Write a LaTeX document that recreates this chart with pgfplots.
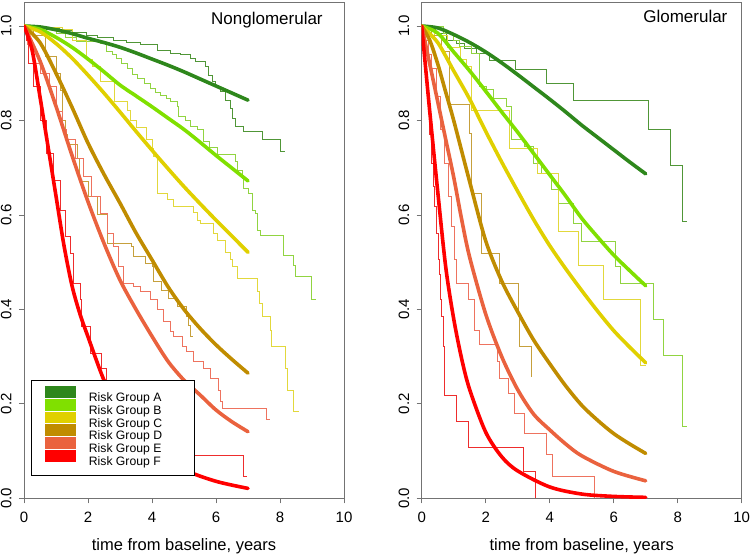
\documentclass[border=0pt]{standalone}
\usepackage{fontspec}
\setmainfont{Liberation Sans}
\usepackage{pgfplots}
\pgfplotsset{compat=1.18}
\definecolor{cA}{RGB}{46,135,28}
\definecolor{cB}{RGB}{128,224,0}
\definecolor{cC}{RGB}{224,208,0}
\definecolor{cD}{RGB}{192,140,0}
\definecolor{cE}{RGB}{234,98,62}
\definecolor{cF}{RGB}{255,0,0}
\definecolor{sA}{RGB}{80,150,55}
\definecolor{sB}{RGB}{145,212,65}
\definecolor{sC}{RGB}{226,216,60}
\definecolor{sD}{RGB}{198,160,60}
\definecolor{sE}{RGB}{238,115,95}
\definecolor{sF}{RGB}{238,45,45}
\newcommand\legent[1]{\makebox[89.2pt][l]{#1}}
\pgfplotsset{
  base/.style={
    width=320pt, height=495.9pt, scale only axis,
    xmin=0, xmax=10, ymin=0, ymax=1.05,
    xtick={0,2,...,10}, ytick={0,0.2,0.4,0.6,0.8,1.0},
    axis line style={draw=black!55, line width=0.8pt},
    tick style={black!55, line width=0.8pt},
    tick align=outside, major tick length=5pt,
    xtick pos=left, ytick pos=left,
    /pgf/number format/assume math mode=true,
    yticklabel style={rotate=90, anchor=south, inner sep=0pt,
      font=\fontsize{15}{15}\selectfont,
      /pgf/number format/.cd, fixed, fixed zerofill, precision=1},
    xticklabel style={anchor=north, inner sep=0pt, font=\fontsize{15}{15}\selectfont},
    yticklabel shift=7.3pt, xticklabel shift=8.7pt,
    xlabel={time from baseline, years},
    xlabel style={at={(rel axis cs:0.5,0)}, anchor=base, yshift=-51.7pt, inner sep=0pt,
      font=\fontsize{16.5}{16.5}\selectfont},
  },
  km/.style={line width=0.9pt, const plot, forget plot},
  fit/.style={line width=3.6pt, line cap=round, smooth},
}
\begin{document}
\begin{tikzpicture}
\useasboundingbox (0,0) rectangle (750pt,558pt);
% ---------------- Nonglomerular ----------------
\begin{axis}[base, at={(24pt,59.7pt)}, anchor=south west,
  legend style={at={(rel axis cs:0.0209,0.2386)}, anchor=north west,
    draw=black, line width=0.6pt, fill=white, inner xsep=14.3pt, inner ysep=5.85pt,
    font=\fontsize{12.2}{12.2}\selectfont, row sep=-6.2pt},
  legend cell align=left,
  legend image code/.code={\fill[#1,draw=none] (0pt,0pt) rectangle (30.7pt,11.8pt); \path[draw=none] (0pt,0pt) -- (41.6pt,0pt);},
]
\addplot[km, sA] coordinates {(0,1)(0.3,0.997)(0.7,0.994)(1.1,0.99)(1.5,0.986)(1.96,0.981)(2.3,0.976)(2.8,0.970)(3.2,0.966)(3.63,0.960)(4.16,0.949)(4.57,0.942)(4.89,0.939)(5.2,0.932)(5.36,0.925)(5.67,0.914)(5.77,0.896)(5.88,0.882)(5.98,0.871)(6.14,0.861)(6.3,0.843)(6.45,0.826)(6.5,0.805)(6.61,0.787)(6.87,0.776)(7.44,0.759)(8.0,0.734)(8.17,0.734)};
\addplot[km, sB] coordinates {(0,1)(0.5,0.995)(1.0,0.985)(1.3,0.975)(1.65,0.967)(2.38,0.963)(2.59,0.946)(2.75,0.94)(2.9,0.932)(3.05,0.92)(3.22,0.910)(3.4,0.898)(3.53,0.889)(3.75,0.878)(3.95,0.868)(4.1,0.86)(4.26,0.854)(4.45,0.846)(4.57,0.840)(4.78,0.830)(4.83,0.808)(5.04,0.801)(5.2,0.787)(5.41,0.780)(5.62,0.755)(5.8,0.742)(6.03,0.727)(6.61,0.713)(6.66,0.695)(6.82,0.678)(6.87,0.656)(7.02,0.646)(7.13,0.610)(7.23,0.603)(7.29,0.568)(7.39,0.557)(8.12,0.515)(8.43,0.494)(8.49,0.469)(8.97,0.421)(9.14,0.421)};
\addplot[km, sC] coordinates {(0,1)(0.6,0.997)(1.2,0.993)(1.5,0.97)(1.95,0.93)(2.15,0.915)(2.4,0.882)(2.82,0.84)(3.22,0.822)(3.32,0.801)(3.5,0.785)(3.84,0.759)(4.0,0.74)(4.05,0.723)(4.16,0.646)(4.47,0.632)(4.68,0.617)(5.30,0.606)(5.41,0.589)(5.51,0.582)(5.93,0.561)(6.03,0.547)(6.3,0.52)(6.45,0.505)(6.5,0.49)(6.68,0.466)(7.29,0.437)(7.37,0.413)(7.44,0.385)(7.7,0.356)(7.73,0.321)(8.17,0.275)(8.24,0.229)(8.43,0.183)(8.59,0.183)};
\addplot[km, sD] coordinates {(0,1)(0.3,0.98)(0.68,0.935)(1.0,0.90)(1.15,0.864)(1.2,0.80)(1.3,0.77)(1.36,0.75)(1.67,0.72)(1.72,0.67)(2.0,0.64)(2.3,0.60)(2.6,0.54)(3.37,0.533)(3.42,0.512)(3.79,0.498)(4.0,0.49)(4.03,0.459)(4.31,0.441)(4.52,0.423)(4.78,0.406)(5.09,0.385)(5.15,0.367)(5.2,0.342)(5.28,0.342)};
\addplot[km, sE] coordinates {(0,1)(0.1,0.96)(0.3,0.92)(0.5,0.9)(0.81,0.871)(1.0,0.82)(1.2,0.78)(1.34,0.759)(1.6,0.72)(1.86,0.681)(2.1,0.64)(2.38,0.603)(2.6,0.56)(2.8,0.533)(2.95,0.49)(3.11,0.455)(3.42,0.448)(3.63,0.437)(3.95,0.420)(4.16,0.399)(4.36,0.374)(4.57,0.353)(4.68,0.342)(4.94,0.321)(5.09,0.310)(5.30,0.289)(5.62,0.275)(5.83,0.254)(6.08,0.229)(6.14,0.205)(6.19,0.191)(7.58,0.166)(7.68,0.166)};
\addplot[km, sF] coordinates {(0,1)(0.08,0.97)(0.13,0.921)(0.29,0.871)(0.5,0.801)(0.71,0.73)(0.92,0.674)(1.13,0.61)(1.28,0.554)(1.44,0.519)(1.54,0.455)(1.75,0.42)(1.81,0.363)(2.07,0.307)(2.43,0.275)(2.57,0.25)(3.0,0.2)(3.5,0.15)(4.0,0.12)(4.5,0.10)(5.0,0.0917)(6.85,0.0457)(6.97,0.0457)};
\addplot[fit, cA] coordinates {(0,1)(0.5,0.998)(1,0.992)(1.5,0.984)(2,0.974)(2.5,0.965)(3,0.955)(3.5,0.943)(4,0.930)(4.5,0.917)(5,0.903)(5.5,0.888)(6,0.873)(6.5,0.858)(7,0.843)};
\addlegendentry{\legent{Risk Group A}}
\addplot[fit, cB] coordinates {(0,1)(0.5,0.993)(1,0.976)(1.5,0.955)(2,0.93)(2.5,0.903)(3,0.875)(3.5,0.852)(4,0.829)(4.5,0.805)(5,0.781)(5.5,0.754)(6,0.726)(6.5,0.699)(7,0.672)};
\addlegendentry{\legent{Risk Group B}}
\addplot[fit, cC] coordinates {(0,1)(0.5,0.988)(1,0.963)(1.5,0.932)(2,0.896)(2.5,0.858)(3,0.818)(3.5,0.777)(4,0.737)(4.5,0.698)(5,0.660)(5.5,0.624)(6,0.589)(6.5,0.555)(7,0.521)};
\addlegendentry{\legent{Risk Group C}}
\addplot[fit, cD] coordinates {(0,1)(0.5,0.965)(1,0.90)(1.5,0.828)(2,0.752)(2.5,0.686)(3,0.625)(3.5,0.562)(4,0.505)(4.5,0.448)(5,0.40)(5.5,0.36)(6,0.325)(6.5,0.294)(7,0.265)};
\addlegendentry{\legent{Risk Group D}}
\addplot[fit, cE] coordinates {(0,1)(0.5,0.926)(1,0.83)(1.5,0.726)(2,0.628)(2.5,0.54)(3,0.462)(3.5,0.40)(4,0.343)(4.5,0.29)(5,0.25)(5.5,0.219)(6,0.187)(6.5,0.162)(7,0.141)};
\addlegendentry{\legent{Risk Group E}}
\addplot[fit, cF] coordinates {(0,1)(0.25,0.95)(0.5,0.85)(0.75,0.745)(1,0.64)(1.25,0.535)(1.5,0.45)(1.75,0.39)(2,0.342)(2.5,0.25)(3,0.183)(3.5,0.14)(4,0.105)(5,0.061)(6,0.036)(7,0.021)};
\addlegendentry{\legent{Risk Group F}}
\node[anchor=base east, font=\fontsize{17}{17}\selectfont, inner sep=0pt] at (rel axis cs:0.934,0.956) {Nonglomerular};
\end{axis}
% ---------------- Glomerular ----------------
\begin{axis}[base, at={(421.7pt,59.7pt)}, anchor=south west]
\addplot[km, sA] coordinates {(0,1)(0.42,0.985)(0.78,0.970)(1.09,0.963)(1.35,0.953)(1.72,0.942)(2.13,0.927)(2.94,0.907)(3.9,0.879)(4.73,0.842)(7.08,0.782)(7.78,0.704)(8.14,0.586)(8.3,0.586)};
\addplot[km, sB] coordinates {(0,1)(0.67,0.985)(0.98,0.970)(1.19,0.956)(1.55,0.942)(1.81,0.872)(2.02,0.865)(2.23,0.847)(2.64,0.829)(2.8,0.759)(3.22,0.744)(3.48,0.709)(3.74,0.688)(4.05,0.653)(4.26,0.625)(4.73,0.582)(5.0,0.543)(6.04,0.49)(6.2,0.455)(7.24,0.379)(7.55,0.303)(8.16,0.153)(8.3,0.153)};
\addplot[km, sC] coordinates {(0,1)(0.4,0.98)(0.8,0.955)(1.2,0.93)(1.4,0.914)(1.56,0.822)(2.73,0.741)(3.63,0.688)(4.26,0.564)(4.89,0.494)(5.68,0.422)(6.85,0.282)(7.0,0.282)};
\addplot[km, sD] coordinates {(0,1)(0.3,0.98)(0.61,0.946)(0.87,0.833)(1.5,0.773)(1.55,0.646)(1.86,0.519)(2.44,0.455)(3.01,0.388)(3.06,0.321)(3.43,0.257)};
\addplot[km, sE] coordinates {(0,1)(0.1,0.97)(0.2,0.94)(0.3,0.91)(0.46,0.85)(0.6,0.78)(0.72,0.709)(0.83,0.64)(0.93,0.575)(1.03,0.505)(1.08,0.455)(1.45,0.420)(1.66,0.356)(1.81,0.325)(2.38,0.289)(2.44,0.254)(2.70,0.222)(2.91,0.180)(3.22,0.138)(3.91,0.092)(4.10,0.046)(5.39,0.0)};
\addplot[km, sF] coordinates {(0,1)(0.05,0.96)(0.09,0.921)(0.15,0.87)(0.2,0.822)(0.25,0.77)(0.3,0.709)(0.36,0.66)(0.41,0.617)(0.46,0.56)(0.51,0.505)(0.56,0.475)(0.6,0.42)(0.63,0.385)(0.67,0.321)(0.70,0.217)(1.08,0.162)(1.45,0.108)(3.17,0.056)(3.55,0.0)};
\addplot[fit, cA] coordinates {(0,1)(0.5,0.996)(1,0.982)(1.5,0.965)(2,0.945)(2.5,0.922)(3,0.897)(3.5,0.871)(4,0.845)(4.5,0.818)(5,0.790)(5.5,0.764)(6,0.738)(6.5,0.712)(7,0.687)};
\addplot[fit, cB] coordinates {(0,1)(0.5,0.985)(1,0.945)(1.5,0.905)(2,0.862)(2.5,0.818)(3,0.775)(3.5,0.73)(4,0.685)(4.5,0.64)(5,0.593)(5.5,0.553)(6,0.515)(6.5,0.482)(7,0.450)};
\addplot[fit, cC] coordinates {(0,1)(0.5,0.965)(1,0.905)(1.5,0.845)(2,0.777)(2.5,0.712)(3,0.65)(3.5,0.59)(4,0.535)(4.5,0.486)(5,0.44)(5.5,0.396)(6,0.355)(6.5,0.32)(7,0.287)};
\addplot[fit, cD] coordinates {(0,1)(0.25,0.97)(0.5,0.92)(0.75,0.86)(1,0.80)(1.5,0.67)(2,0.545)(2.5,0.46)(3,0.395)(3.5,0.335)(4,0.285)(4.5,0.238)(5,0.197)(5.5,0.165)(6,0.137)(6.5,0.115)(7,0.095)};
\addplot[fit, cE] coordinates {(0,1)(0.25,0.92)(0.5,0.84)(0.75,0.76)(1,0.68)(1.25,0.59)(1.5,0.51)(2,0.39)(2.5,0.30)(3,0.23)(3.5,0.178)(4,0.145)(4.5,0.115)(5,0.09)(6,0.057)(7,0.037)};
\addplot[fit, cF] coordinates {(0,1)(0.25,0.82)(0.5,0.65)(0.75,0.49)(1,0.38)(1.25,0.295)(1.5,0.23)(2,0.14)(2.5,0.088)(3,0.058)(4,0.024)(5,0.009)(6,0.004)(7,0.002)};
\node[anchor=base east, font=\fontsize{17}{17}\selectfont, inner sep=0pt] at (rel axis cs:0.956,0.96) {Glomerular};
\end{axis}
\end{tikzpicture}
\end{document}
